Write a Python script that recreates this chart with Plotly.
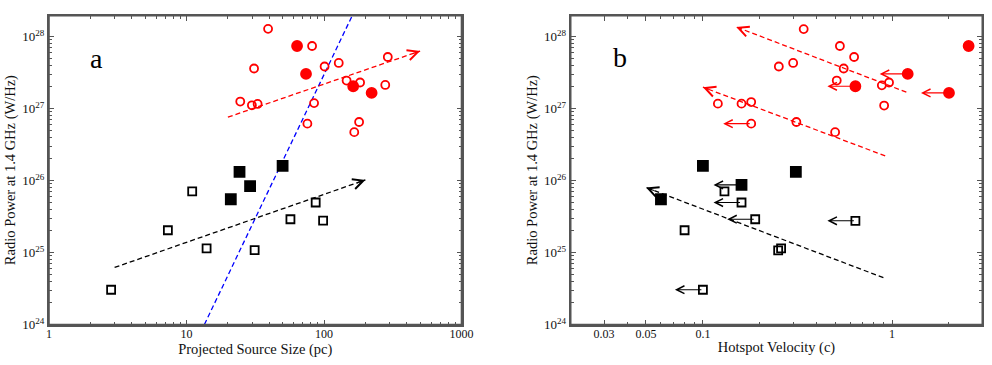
import numpy as np
import plotly.graph_objects as go

# ---------------- Panel a: Projected source size (pc) vs radio power ----------------
size_red_open = [39.2, 81.9, 31, 101, 128, 291, 146, 183, 279, 24.6, 29.9, 32.9, 84.7, 75.7, 180, 166]
power_red_open_a = [1.28e28, 7.4e27, 3.6e27, 3.84e27, 4.3e27, 5.2e27, 2.45e27, 2.3e27, 2.13e27,
                    1.25e27, 1.11e27, 1.16e27, 1.19e27, 6.17e26, 6.5e26, 4.7e26]
size_red_fill = [63.7, 74, 163, 222]
power_red_fill_a = [7.4e27, 3.03e27, 2.04e27, 1.65e27]
size_blk_open = [11, 7.32, 14, 2.83, 87, 57, 98.5, 31.3]
power_blk_open_a = [7.05e25, 2.04e25, 1.14e25, 3.04e24, 4.95e25, 2.9e25, 2.78e25, 1.08e25]
size_blk_fill = [24.3, 29, 50, 21]
power_blk_fill_a = [1.32e26, 8.35e25, 1.6e26, 5.5e25]

# fit lines (start, end)
fit_red_a_x = [20, 500]
fit_red_a_y = [7.6e26, 6.3e27]
fit_blk_a_x = [3, 200]
fit_blk_a_y = [6.2e24, 1.02e26]
fit_blue_x = [13.5, 162]
fit_blue_y = [1e24, 2.03e28]

# ---------------- Panel b: Hotspot velocity (c) vs radio power ----------------
vel_red_open = [0.341, 0.53, 0.63, 0.30, 0.252, 0.555, 0.51, 0.883, 0.964, 0.908, 0.18, 0.16, 0.18,
                0.312, 0.5, 0.12]
power_red_open_b = [1.27e28, 7.4e27, 5.2e27, 4.3e27, 3.84e27, 3.6e27, 2.45e27, 2.1e27, 2.3e27, 1.1e27,
                    1.23e27, 1.17e27, 6.17e26, 6.5e26, 4.7e26, 1.17e27]
limit_red_open = [False, False, False, False, False, False, False, False, False, False, False, False, True,
                  False, False, False]
vel_red_fill = [2.54, 1.21, 0.64, 2.0]
power_red_fill_b = [7.4e27, 3.03e27, 2.04e27, 1.65e27]
limit_red_fill = [False, True, True, True]
vel_blk_open = [0.13, 0.16, 0.189, 0.64, 0.25, 0.259, 0.08, 0.1]
power_blk_open_b = [7.05e25, 4.95e25, 2.9e25, 2.76e25, 1.07e25, 1.14e25, 2.04e25, 3.04e24]
limit_blk_open = [False, True, True, True, False, False, False, True]
vel_blk_fill = [0.1, 0.06, 0.16, 0.31]
power_blk_fill_b = [1.6e26, 5.5e25, 8.7e25, 1.32e26]
limit_blk_fill = [False, False, True, False]

fit_red1_b_x = [1.19, 0.15]
fit_red1_b_y = [1.69e27, 1.36e28]
fit_red2_b_x = [0.92, 0.1]
fit_red2_b_y = [2.2e26, 1.98e27]
fit_blk_b_x = [0.9, 0.05]
fit_blk_b_y = [4.47e24, 8e25]

y_tickvals = [1e24, 1e25, 1e26, 1e27, 1e28]
y_ticktext = ["10<sup>24</sup>", "10<sup>25</sup>", "10<sup>26</sup>", "10<sup>27</sup>", "10<sup>28</sup>"]
xa_tickvals = [1, 10, 100, 1000]
xa_ticktext = ["1", "10", "100", "1000"]
xb_tickvals = [0.03, 0.05, 0.1, 1]
xb_ticktext = ["0.03", "0.05", "0.1", "1"]

RED = "#ff0000"
BLUE = "#0000ff"
BLK = "#000000"
FRAME = "#555555"
FONT = "Liberation Serif"
ARROW_DEC = 0.148   # length of upper-limit arrows (decades)

fig = go.Figure()

def pts(x, y, xa, ya, symbol, color, size, lw=1.8):
    fig.add_trace(go.Scatter(x=x, y=y, xaxis=xa, yaxis=ya, mode="markers",
                             marker=dict(symbol=symbol, color=color, size=size,
                                         line=dict(color=color, width=lw)),
                             showlegend=False, hoverinfo="x+y"))

def dline(x, y, xa, ya, color, arrow=True):
    fig.add_trace(go.Scatter(x=x, y=y, xaxis=xa, yaxis=ya, mode="lines",
                             line=dict(color=color, width=1.3, dash="5px,3px"),
                             showlegend=False, hoverinfo="skip"))
    if arrow:
        lx = np.log10(x); ly = np.log10(y)
        tx, ty = lx[1], ly[1]
        bx = lx[1] - 0.04 * (lx[1] - lx[0]); by = ly[1] - 0.04 * (ly[1] - ly[0])
        fig.add_annotation(x=tx, y=ty, ax=bx, ay=by, xref=xa, yref=ya,
                           axref=xa, ayref=ya, showarrow=True, arrowhead=5,
                           arrowsize=1.7, arrowwidth=1.2, arrowcolor=color, text="")

def limits(x, y, flags, color):
    for xv, yv, f in zip(x, y, flags):
        if f:
            lx = np.log10(xv); ly = np.log10(yv)
            fig.add_annotation(x=lx - ARROW_DEC, y=ly, ax=lx, ay=ly, xref="x2", yref="y2",
                               axref="x2", ayref="y2", showarrow=True, arrowhead=5,
                               arrowsize=1.4, arrowwidth=1.1, arrowcolor=color, text="")

# panel a
dline(fit_blue_x, fit_blue_y, "x", "y", BLUE, arrow=False)
dline(fit_red_a_x, fit_red_a_y, "x", "y", RED)
dline(fit_blk_a_x, fit_blk_a_y, "x", "y", BLK)
pts(size_red_open, power_red_open_a, "x", "y", "circle-open", RED, 8)
pts(size_red_fill, power_red_fill_a, "x", "y", "circle", RED, 10)
pts(size_blk_open, power_blk_open_a, "x", "y", "square-open", BLK, 8)
pts(size_blk_fill, power_blk_fill_a, "x", "y", "square", BLK, 10)

# panel b
dline(fit_red1_b_x, fit_red1_b_y, "x2", "y2", RED)
dline(fit_red2_b_x, fit_red2_b_y, "x2", "y2", RED)
dline(fit_blk_b_x, fit_blk_b_y, "x2", "y2", BLK)
limits(vel_red_open, power_red_open_b, limit_red_open, RED)
limits(vel_red_fill, power_red_fill_b, limit_red_fill, RED)
limits(vel_blk_open, power_blk_open_b, limit_blk_open, BLK)
limits(vel_blk_fill, power_blk_fill_b, limit_blk_fill, BLK)
pts(vel_red_open, power_red_open_b, "x2", "y2", "circle-open", RED, 8)
pts(vel_red_fill, power_red_fill_b, "x2", "y2", "circle", RED, 10)
pts(vel_blk_open, power_blk_open_b, "x2", "y2", "square-open", BLK, 8)
pts(vel_blk_fill, power_blk_fill_b, "x2", "y2", "square", BLK, 10)

def minor_vals(lo, hi):
    out = []
    for d in range(lo, hi):
        for m in range(2, 10):
            out.append(m * 10.0 ** d)
    return out

axis_common = dict(type="log", showgrid=False, zeroline=False, showline=True, linecolor=FRAME,
                   linewidth=2, mirror="allticks", ticks="inside", ticklen=5, tickwidth=1,
                   tickcolor=FRAME, automargin=False)
xtick_font = dict(family=FONT, size=12, color="#111111")
ytick_font = dict(family=FONT, size=13, color="#111111")
title_font = dict(family=FONT, size=14.5, color="#111111")

W, H = 992, 365
YDOM = [40.5 / H, 349.3 / H]
YRANGE = [24, 28.29]
fig.update_layout(
    width=W, height=H, margin=dict(l=0, r=0, t=0, b=0, autoexpand=False),
    paper_bgcolor="white", plot_bgcolor="white",
    font=dict(family=FONT, color="#111111"),
    xaxis=dict(**axis_common, domain=[49 / W, 461.5 / W], range=[0, 3], anchor="y",
               tickmode="array", tickvals=xa_tickvals, ticktext=xa_ticktext, ticklabelstandoff=-3,
               tickfont=xtick_font,
               minor=dict(tickmode="array", tickvals=minor_vals(0, 3), ticks="inside", ticklen=3,
                          tickcolor=FRAME, showgrid=False),
               title=dict(text="Projected Source Size (pc)", font=title_font, standoff=2)),
    yaxis=dict(**axis_common, domain=YDOM, range=YRANGE, anchor="x",
               tickmode="array", tickvals=y_tickvals, ticktext=y_ticktext, tickfont=ytick_font,
               minor=dict(tickmode="array", tickvals=minor_vals(24, 28), ticks="inside", ticklen=3,
                          tickcolor=FRAME, showgrid=False),
               title=dict(text="Radio Power at 1.4 GHz (W/Hz)", font=title_font, standoff=3)),
    xaxis2=dict(**axis_common, domain=[570.7 / W, 982.3 / W], range=[np.log10(0.02), np.log10(3)], anchor="y2",
                tickmode="array", tickvals=xb_tickvals, ticktext=xb_ticktext, ticklabelstandoff=-3,
                tickfont=xtick_font,
                minor=dict(tickmode="array", tickvals=minor_vals(-2, 1), ticks="inside", ticklen=3,
                           tickcolor=FRAME, showgrid=False),
                title=dict(text="Hotspot Velocity (c)", font=title_font, standoff=2)),
    yaxis2=dict(**axis_common, domain=YDOM, range=YRANGE, anchor="x2",
                tickmode="array", tickvals=y_tickvals, ticktext=y_ticktext, tickfont=ytick_font,
                minor=dict(tickmode="array", tickvals=minor_vals(24, 28), ticks="inside", ticklen=3,
                           tickcolor=FRAME, showgrid=False),
                title=dict(text="Radio Power at 1.4 GHz (W/Hz)", font=title_font, standoff=3)),
)

# explicit frames around both panels
for xr, yr in (("x domain", "y domain"), ("x2 domain", "y2 domain")):
    fig.add_shape(type="rect", xref=xr, yref=yr, x0=0, x1=1, y0=0, y1=1,
                  line=dict(color=FRAME, width=1.6), fillcolor="rgba(0,0,0,0)", layer="above")

fig.add_annotation(text="a", x=0.115, y=0.863, xref="x domain", yref="y domain", showarrow=False,
                   xanchor="center", yanchor="middle",
                   font=dict(family=FONT, size=28, color="#000000"))
fig.add_annotation(text="b", x=0.12, y=0.866, xref="x2 domain", yref="y2 domain", showarrow=False,
                   xanchor="center", yanchor="middle",
                   font=dict(family=FONT, size=28, color="#000000"))

fig.write_html("out.html", config={"displayModeBar": False},
               post_script="document.body.style.margin='0';document.body.style.overflow='hidden';")
